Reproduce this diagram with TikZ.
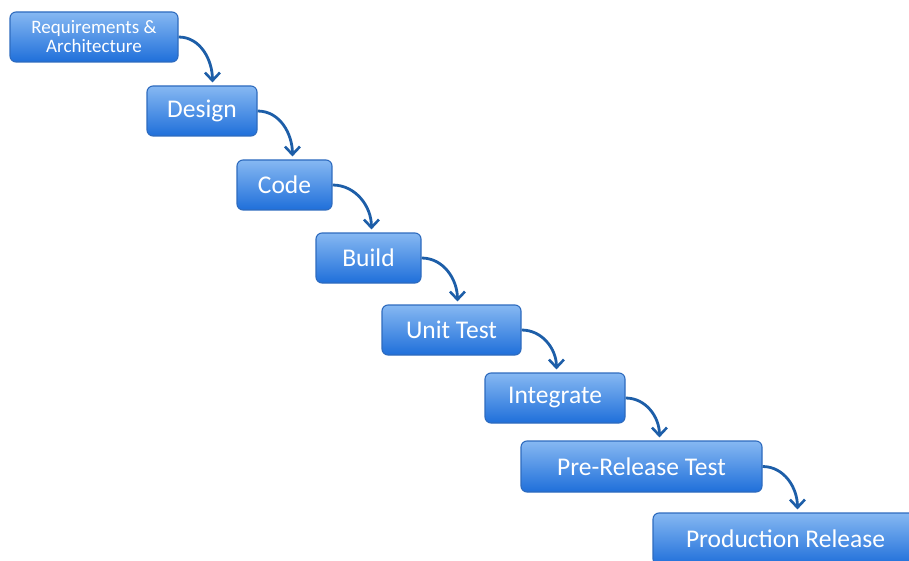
\documentclass[tikz,border=0pt]{standalone}
\usepackage{fontspec}
\setmainfont{Carlito}
\usetikzlibrary{arrows.meta,calc}
\definecolor{boxtop}{HTML}{86B8F2}
\definecolor{boxbot}{HTML}{1F6FDA}
\definecolor{boxedge}{HTML}{2E6BBE}
\definecolor{flowcol}{HTML}{1D5EA8}
\tikzset{
  stage/.style={rounded corners=6pt, draw=boxedge, line width=1.1pt,
    top color=boxtop, bottom color=boxbot, text=white,
    inner sep=0pt, font=\fontsize{25.5}{27}\selectfont},
  flow/.style={draw=flowcol, line width=2.8pt,
    -{Straight Barb[length=8pt,width=15pt,line width=2.6pt]}}
}
\begin{document}
\begin{tikzpicture}[x=1pt,y=1pt]
\useasboundingbox (0,0) rectangle (909,-561);
\clip (0,0) rectangle (909,-561);
\node[stage, minimum width=168pt, minimum height=50pt, align=center,
  font=\fontsize{19}{19}\selectfont] (req) at (94,-37) {Requirements \&\\Architecture};
\node[stage, minimum width=110pt, minimum height=50pt] (des) at (202,-111) {Design};
\node[stage, minimum width=95pt, minimum height=50pt] (code) at (284.5,-185) {Code};
\node[stage, minimum width=105pt, minimum height=50pt] (build) at (368.5,-258) {Build};
\node[stage, minimum width=139pt, minimum height=50pt] (unit) at (451.5,-330) {Unit Test};
\node[stage, minimum width=140pt, minimum height=50pt] (integ) at (555,-398) {Integrate};
\node[stage, minimum width=241pt, minimum height=51pt] (pre) at (641.5,-466.5) {Pre-Release Test};
\node[stage, minimum width=265pt, minimum height=52pt] (prod) at (785.5,-539) {Production Release};

\draw[flow] (req.east) to[out=0,in=90] ($(des.north west)+(66,3)$);
\draw[flow] (des.east) to[out=0,in=90] ($(code.north west)+(56,3)$);
\draw[flow] (code.east) to[out=0,in=90] ($(build.north west)+(56,3)$);
\draw[flow] (build.east) to[out=0,in=90] ($(unit.north west)+(76,3)$);
\draw[flow] (unit.east) to[out=0,in=90] ($(integ.north west)+(72,3)$);
\draw[flow] (integ.east) to[out=0,in=90] ($(pre.north west)+(139,3)$);
\draw[flow] (pre.east) to[out=0,in=90] ($(prod.north west)+(145,3)$);
\end{tikzpicture}
\end{document}
